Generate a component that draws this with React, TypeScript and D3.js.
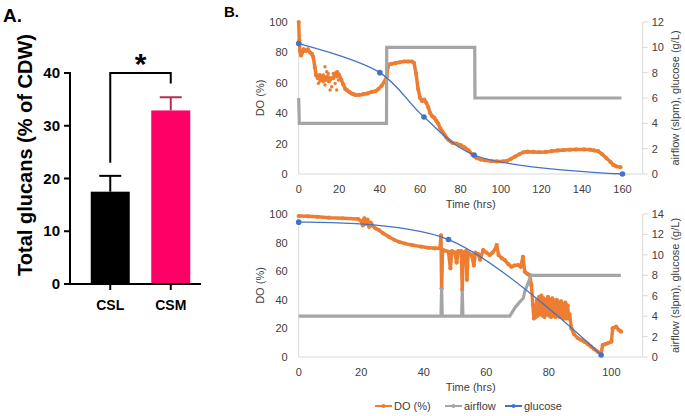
import React from 'react';
import * as d3 from 'd3';

type P = [number, number];

// ---------- Panel A data ----------
const glucanCats = ['CSL', 'CSM'];
const glucanMeans = [17.5, 32.9];
const glucanErr = [3.0, 2.5];
const glucanTicks = [0, 10, 20, 30, 40];
const bracketLevels = [23, 40, 38]; // left leg end, bracket top, right leg end

// ---------- Panel B top (0-160 h) ----------
const topTimeTicks = [0, 20, 40, 60, 80, 100, 120, 140, 160];
const topDOTicks = [0, 20, 40, 60, 80, 100];
const topRightTicks = [0, 2, 4, 6, 8, 10, 12];
const topDO: P[] = [
  [0, 100], [0.3, 88], [0.6, 81], [1.2, 78], [1.8, 80], [2.5, 82], [3.5, 81], [4.5, 82], [5.5, 80], [6.5, 79],
  [7.2, 77], [8, 70], [8.6, 65], [9.5, 63], [10.5, 65], [11.2, 62], [12, 64], [13, 62], [14, 64], [15, 61],
  [16, 63], [17, 63], [18, 66], [19, 67], [20, 65], [21, 62], [22, 59], [23, 56], [24, 55], [25, 54],
  [26, 53], [27, 52.5], [28, 52], [30, 52], [32, 52.5], [34, 53], [36, 54], [38, 54.5], [39.5, 56], [41, 58],
  [42.5, 61], [43.5, 64], [44, 70], [44.5, 72], [46, 72.5], [48, 73], [50, 73.5], [52, 74], [54, 74], [56, 74],
  [57, 73], [58, 66], [59, 56], [60, 50], [61, 48], [62, 49], [63, 47], [64, 44], [65, 40], [66, 38],
  [67, 37], [68, 35], [69, 33], [70, 30], [71, 28], [72, 26], [73, 24], [74, 22.5], [75, 21.5], [76, 20.5],
  [78, 20], [80, 19], [82, 17.5], [84, 15.5], [86, 12.5], [87, 11.5], [88, 10.5], [90, 9.5], [92, 9], [95, 8.5],
  [98, 8.3], [101, 8.3], [103, 8.7], [105, 10], [107, 11.5], [109, 13], [111, 14.3], [113, 14.7], [116, 14.5], [119, 14.3],
  [122, 14.5], [125, 15], [128, 15.5], [131, 15.8], [134, 16], [137, 16.2], [141, 16.2], [144, 16], [146, 15.5], [148, 15],
  [150, 13], [152, 10.5], [154, 8], [155.5, 6], [157, 5], [159, 4.5],
];
const topDOScatter: P[] = [
  [9.7, 59.6], [11.3, 62.9], [12.2, 65.1], [13, 70.6], [13.8, 67.3], [13, 58.6], [14.6, 64], [14.6, 66.2], [13.8, 61.8],
  [15.5, 61.8], [15.5, 55.3], [16.3, 57.4], [17.1, 66.2], [18, 59.6], [18.8, 55.3], [19.6, 61.8], [12.2, 60.7],
  [16.3, 63], [10.5, 61], [18.8, 64],
];
const topAir: P[] = [[0, 6], [0.3, 4], [43.4, 4], [43.5, 10], [87, 10], [87.1, 6], [159.5, 6]];
const topGlu: P[] = [[0, 10.3], [40.1, 8.0], [61.9, 4.5], [86.7, 1.5], [160, 0]];

// ---------- Panel B bottom (0-103 h) ----------
const botTimeTicks = [0, 20, 40, 60, 80, 100];
const botDOTicks = [0, 20, 40, 60, 80, 100];
const botRightTicks = [0, 2, 4, 6, 8, 10, 12, 14];
const botDO: P[] = [
  [0, 98.6], [3, 98.4], [6, 98], [9.7, 97.4], [14, 97], [19, 96.5], [20, 95], [20.5, 92], [21, 97], [21.5, 93],
  [22, 96], [22.5, 91], [23, 94], [23.5, 92], [24.5, 90], [25.6, 88.8], [27, 86.5], [28.8, 84.1], [30.5, 82], [32, 80.6],
  [34, 79.3], [36.2, 78.3], [39, 77.2], [41.5, 76.4], [43.5, 76], [45.2, 76], [45.5, 85], [45.7, 48], [46, 75], [47.9, 73.6],
  [48.5, 62], [49, 74], [50, 73], [50.5, 66], [51, 74], [52, 74], [52.3, 47], [52.6, 73], [53.5, 74], [53.8, 54],
  [54.2, 73], [55.3, 71.3], [56, 64], [56.5, 73], [57.4, 72], [58, 68], [59, 74.8], [60, 73], [61.1, 71.3], [62, 73],
  [63, 76], [63.3, 78.3], [63.9, 71.3], [65, 69], [65.9, 67.8], [67, 65], [68, 63.1], [69, 64], [70.2, 64.3], [71, 63],
  [71.7, 70.1], [72.3, 59.7], [73.2, 58], [73.9, 57.3], [74.4, 50.3], [74.9, 36.4], [75.2, 27], [75.5, 35], [75.8, 28], [76.2, 40],
  [76.5, 29], [76.9, 42], [77.2, 30], [77.6, 43], [77.9, 29], [78.3, 41], [78.6, 28], [79, 40], [79.3, 30], [79.7, 42],
  [80, 29], [80.4, 40], [80.7, 28], [81.1, 41], [81.4, 29], [81.8, 39], [82.1, 28], [82.5, 40], [82.8, 29], [83.2, 38],
  [83.5, 28], [83.9, 39], [84.2, 28], [84.6, 37], [84.9, 27], [85.3, 38], [85.6, 27], [86, 36], [86.3, 27], [86.6, 30],
  [87.2, 20], [88, 16], [89.3, 13.1], [90.3, 12], [91.4, 10.7], [92.5, 9],
  [93.5, 7.2], [94.5, 5.5], [95.6, 3.7], [96.7, 2.4], [97.2, 8.4], [98, 9], [98.8, 9.6], [100, 10.7], [100.4, 20], [101.5, 21.2],
  [102.3, 19], [103.1, 17.7],
];
const botAir: P[] = [
  [0, 4], [45.5, 4], [45.7, 6.8], [45.9, 4], [52.1, 4], [52.3, 6.5], [52.5, 4], [67.5, 4], [69.1, 4.8], [70.7, 5.4],
  [71.8, 5.75], [72.3, 6.4], [73.3, 7.2], [74.4, 8.0], [103, 8.0],
];
const botGlu: P[] = [[0, 13.2], [47.9, 11.5], [96.7, 0.2]];

const ORANGE = '#ED7D31';
const GRAY = '#A5A5A5';
const BLUE = '#4472C4';
const AXIS = '#D9D9D9';
const TXT = '#404040';
const FONT = "'Liberation Sans', Arial, sans-serif";

interface SubProps {
  xDomain: [number, number];
  rightMax: number;
  top: number;
  bottom: number;
  timeTicks: number[];
  doTicks: number[];
  rightTicks: number[];
  doData: P[];
  doScatter: P[];
  air: P[];
  glu: P[];
}

const LEFT = 298.7;
const RIGHT = 642.7;

function SubChart(p: SubProps) {
  const x = d3.scaleLinear().domain(p.xDomain).range([LEFT, RIGHT]);
  const yL = d3.scaleLinear().domain([0, 100]).range([p.bottom, p.top]);
  const yR = d3.scaleLinear().domain([0, p.rightMax]).range([p.bottom, p.top]);
  const lineDO = d3.line<P>().x(d => x(d[0])).y(d => yL(d[1]));
  const lineR = d3.line<P>().x(d => x(d[0])).y(d => yR(d[1]));
  const lineG = d3.line<P>().x(d => x(d[0])).y(d => yR(d[1])).curve(d3.curveCatmullRom.alpha(0.5));
  const midY = (p.top + p.bottom) / 2;
  return (
    <g fontFamily={FONT} fontSize={11} fill={TXT}>
      <line x1={LEFT} x2={LEFT} y1={p.top} y2={p.bottom} stroke={AXIS} />
      <line x1={LEFT} x2={RIGHT} y1={p.bottom} y2={p.bottom} stroke={AXIS} />
      <line x1={RIGHT} x2={RIGHT} y1={p.top} y2={p.bottom} stroke={AXIS} />
      {p.rightTicks.map(t => (
        <g key={'r' + t}>
          <line x1={RIGHT} x2={RIGHT + 5} y1={yR(t)} y2={yR(t)} stroke={AXIS} />
          <text x={RIGHT + 9} y={yR(t) + 4}>{t}</text>
        </g>
      ))}
      {p.doTicks.map(t => (
        <text key={'l' + t} x={LEFT - 11} y={yL(t) + 4} textAnchor="end">{t}</text>
      ))}
      {p.timeTicks.map(t => (
        <text key={'x' + t} x={x(t)} y={p.bottom + 19} textAnchor="middle">{t}</text>
      ))}
      <text x={(LEFT + RIGHT) / 2} y={p.bottom + 34} textAnchor="middle">Time (hrs)</text>
      <text transform={`translate(${264},${midY}) rotate(-90)`} textAnchor="middle">DO (%)</text>
      <text transform={`translate(${679},${midY}) rotate(-90)`} textAnchor="middle">airflow (slpm), glucose (g/L)</text>

      <path d={lineDO(p.doData) || ''} fill="none" stroke={ORANGE} strokeWidth={3.5} strokeLinejoin="round" />
      {p.doData.map((d, i) => (
        <circle key={'d' + i} cx={x(d[0])} cy={yL(d[1])} r={2.1} fill={ORANGE} />
      ))}
      {p.doScatter.map((d, i) => (
        <circle key={'s' + i} cx={x(d[0])} cy={yL(d[1])} r={1.7} fill={ORANGE} />
      ))}
      <path d={lineR(p.air) || ''} fill="none" stroke={GRAY} strokeWidth={3.2} />
      <path d={lineG(p.glu) || ''} fill="none" stroke={BLUE} strokeWidth={1.3} />
      {p.glu.map((d, i) => (
        <circle key={'g' + i} cx={x(d[0])} cy={yR(d[1])} r={2.8} fill={BLUE} />
      ))}
    </g>
  );
}

function PanelA() {
  const y = d3.scaleLinear().domain([0, 40]).range([284, 73]);
  const x = d3.scalePoint<string>().domain(glucanCats).range([80, 201]).padding(0.5);
  const barW = 39;
  const colors = ['#000000', '#FF0066'];
  const errColors = ['#000000', '#B0304F'];
  const xl = x('CSL')!;
  const xr = x('CSM')!;
  return (
    <g fontFamily={FONT} fontWeight="bold" fill="#000">
      <text x={3} y={22} fontSize={19}>A.</text>
      {glucanCats.map((c, i) => {
        const cx = x(c)!;
        return (
          <g key={c}>
            <rect x={cx - barW / 2} y={y(glucanMeans[i])} width={barW} height={y(0) - y(glucanMeans[i])} fill={colors[i]} />
            <line x1={cx} x2={cx} y1={y(glucanMeans[i])} y2={y(glucanMeans[i] + glucanErr[i])} stroke={errColors[i]} strokeWidth={2} />
            <line x1={cx - 11} x2={cx + 11} y1={y(glucanMeans[i] + glucanErr[i])} y2={y(glucanMeans[i] + glucanErr[i])} stroke={errColors[i]} strokeWidth={2} />
            <line x1={cx} x2={cx} y1={y(0)} y2={y(0) + 6} stroke="#000" strokeWidth={2} />
            <text x={cx} y={310} textAnchor="middle" fontSize={14}>{c}</text>
          </g>
        );
      })}
      <line x1={70} x2={70} y1={y(40) - 1} y2={y(0) + 1} stroke="#000" strokeWidth={2} />
      <line x1={69} x2={201} y1={y(0)} y2={y(0)} stroke="#000" strokeWidth={2} />
      {glucanTicks.map(t => (
        <g key={t}>
          <line x1={64} x2={70} y1={y(t)} y2={y(t)} stroke="#000" strokeWidth={2} />
          <text x={60} y={y(t) + 5} textAnchor="end" fontSize={15}>{t}</text>
        </g>
      ))}
      <text transform={`translate(32,${155}) rotate(-90)`} textAnchor="middle" fontSize={20}>Total glucans (% of CDW)</text>
      <path
        d={`M${xl},${y(bracketLevels[0])}V${y(bracketLevels[1])}H${xr}V${y(bracketLevels[2])}`}
        fill="none" stroke="#000" strokeWidth={2}
      />
      <text x={(xl + xr) / 2} y={74} textAnchor="middle" fontSize={30}>*</text>
    </g>
  );
}

function Legend() {
  const items = [
    { label: 'DO (%)', color: ORANGE, x: 375 },
    { label: 'airflow', color: GRAY, x: 445 },
    { label: 'glucose', color: BLUE, x: 505 },
  ];
  return (
    <g fontFamily={FONT} fontSize={11} fill={TXT}>
      {items.map(it => (
        <g key={it.label}>
          <line x1={it.x} x2={it.x + 17} y1={406} y2={406} stroke={it.color} strokeWidth={2} />
          <circle cx={it.x + 8.5} cy={406} r={2} fill={it.color} />
          <text x={it.x + 19} y={410}>{it.label}</text>
        </g>
      ))}
    </g>
  );
}

export default function App() {
  return (
    <svg width={685} height={416} style={{ position: 'absolute', left: 0, top: 0, background: '#fff' }}>
      <rect width={685} height={416} fill="#fff" />
      <PanelA />
      <text x={224} y={17} fontFamily={FONT} fontWeight="bold" fontSize={15}>B.</text>
      <SubChart
        xDomain={[0, 170]} rightMax={12} top={22} bottom={174}
        timeTicks={topTimeTicks} doTicks={topDOTicks} rightTicks={topRightTicks}
        doData={topDO} doScatter={topDOScatter} air={topAir} glu={topGlu}
      />
      <SubChart
        xDomain={[0, 110]} rightMax={14} top={214} bottom={357}
        timeTicks={botTimeTicks} doTicks={botDOTicks} rightTicks={botRightTicks}
        doData={botDO} doScatter={[]} air={botAir} glu={botGlu}
      />
      <Legend />
    </svg>
  );
}
